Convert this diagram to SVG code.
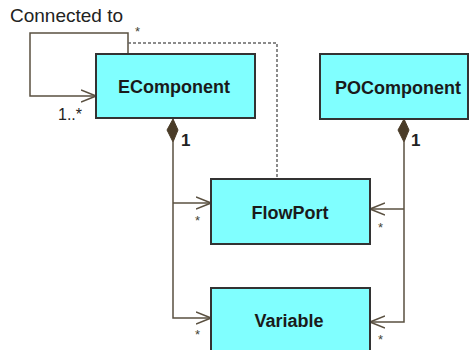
<svg xmlns="http://www.w3.org/2000/svg" width="469" height="350" viewBox="0 0 469 350">
<style>
.box{fill:#80ffff;stroke:#333;stroke-width:2}
.name{font-family:"Liberation Sans",Arial,sans-serif;font-size:18px;font-weight:bold;fill:#1a1a1a;text-anchor:middle}
.ln{fill:none;stroke:#5a5040;stroke-width:1.5}
.dash{fill:none;stroke:#666;stroke-width:1.5;stroke-dasharray:3 2}
.dia{fill:#4a3c28;stroke:#4a3c28;stroke-width:1}
.lbl{font-family:"Liberation Sans",Arial,sans-serif;fill:#222}
.star{font-family:"Liberation Sans",Arial,sans-serif;font-size:13px;fill:#443;}
</style>
<defs>
<marker id="open" viewBox="0 0 16 14" refX="15" refY="7" markerWidth="16" markerHeight="14" markerUnits="userSpaceOnUse" orient="auto">
<path d="M0,1 L15,7 L0,13" fill="none" stroke="#5a5040" stroke-width="1.5"/>
</marker>
</defs>
<rect width="469" height="350" fill="#fff"/>
<g id="connectors">
<polyline class="ln" points="128,54 128,33 30,33 30,96 96,96" marker-end="url(#open)"/>
<polyline class="dash" points="128,43 277,43 277,179"/>
<polyline class="ln" points="173,142 173,318 211,318" marker-end="url(#open)"/>
<polyline class="ln" points="173,203 211,203" marker-end="url(#open)"/>
<polygon class="dia" points="173,119 178,130 173,142 167,130"/>
<polyline class="ln" points="404,142 404,322 370,322" marker-end="url(#open)"/>
<polyline class="ln" points="404,209 370,209" marker-end="url(#open)"/>
<polygon class="dia" points="404,119 409,130 404,142 398,130"/>
<text class="lbl" x="10" y="22" font-size="19">Connected to</text>
<text class="star" x="135" y="36">*</text>
<text class="lbl" x="58" y="120" font-size="16">1..*</text>
<text class="lbl" x="181" y="146" font-size="17" font-weight="bold">1</text>
<text class="lbl" x="411" y="146" font-size="17" font-weight="bold">1</text>
<text class="star" x="195" y="225">*</text>
<text class="star" x="378" y="232">*</text>
<text class="star" x="195" y="339">*</text>
<text class="star" x="378" y="344">*</text>
</g>
<g id="EComponent">
<rect class="box" x="96" y="54" width="159" height="64"/>
<text class="name" x="174" y="93">EComponent</text>
</g>
<g id="POComponent">
<rect class="box" x="320" y="54" width="148" height="65"/>
<text class="name" x="398" y="94">POComponent</text>
</g>
<g id="FlowPort">
<rect class="box" x="211" y="179" width="159" height="65"/>
<text class="name" x="290" y="219">FlowPort</text>
</g>
<g id="Variable">
<rect class="box" x="211" y="288" width="159" height="66"/>
<text class="name" x="289" y="327">Variable</text>
</g>
</svg>
